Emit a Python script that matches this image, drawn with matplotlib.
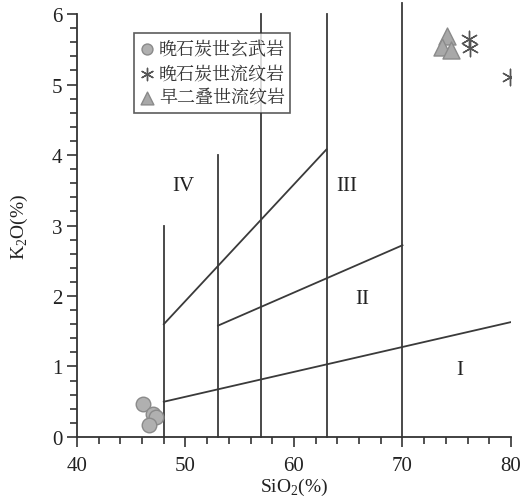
import numpy as np
import matplotlib.pyplot as plt
from matplotlib.ticker import MultipleLocator

# data
basalt_si = [46.1, 47.0, 47.25, 46.6]
basalt_k = [0.47, 0.33, 0.28, 0.17]
rhy_c_si = [76.1, 76.2, 79.9]
rhy_c_k = [5.64, 5.52, 5.10]
rhy_p_si = [74.1, 73.6, 74.5]
rhy_p_k = [5.69, 5.53, 5.49]

# field boundaries
verticals = [(48, 3.0), (53, 4.0), (57, 6.0), (63, 6.0), (70, 6.15)]
slopes = [((48, 80), (0.5, 1.63)), ((53, 70), (1.58, 2.72)), ((48, 63), (1.6, 4.08))]
field_labels = ["IV", "III", "II", "I"]
field_xy = [(49.8, 3.57), (64.9, 3.57), (66.3, 1.96), (75.3, 0.96)]
legend_names = ["晚石炭世玄武岩", "晚石炭世流纹岩", "早二叠世流纹岩"]

serif = ['Liberation Serif', 'DejaVu Serif']
cjk = ['Noto Serif CJK SC', 'Noto Sans CJK SC', 'DejaVu Sans']
plt.rcParams['font.family'] = serif
plt.rcParams['mathtext.fontset'] = 'custom'
plt.rcParams['mathtext.rm'] = 'Liberation Serif'

fig = plt.figure(figsize=(5.23, 5.02), dpi=100)
ax = fig.add_axes([0.1472, 0.1275, 0.8298, 0.8426])
lc = '#3a3a3a'

for x, top in verticals:
    ax.plot([x, x], [0, top], color=lc, lw=1.3, clip_on=False, zorder=1)
for xs, ys in slopes:
    ax.plot(xs, ys, color=lc, lw=1.3, zorder=1)
for lab, (x, y) in zip(field_labels, field_xy):
    ax.text(x, y, lab, fontsize=15, ha='center', va='center', color='#222222')

ax.scatter(basalt_si, basalt_k, s=110, marker='o', facecolor='#b0b0b0',
           edgecolor='#8a8a8a', lw=1, zorder=3, label=legend_names[0])
ax.scatter(rhy_c_si, rhy_c_k, s=140, marker=(6, 2, 0), color='#555555',
           lw=1.0, zorder=3, label=legend_names[1])
ax.scatter(rhy_p_si, rhy_p_k, s=150, marker='^', facecolor='#a8a8a8',
           edgecolor='#8a8a8a', lw=1, zorder=3, label=legend_names[2])

ax.set_xlim(40, 80)
ax.set_ylim(0, 6)
ax.xaxis.set_major_locator(MultipleLocator(10))
ax.xaxis.set_minor_locator(MultipleLocator(2))
ax.yaxis.set_major_locator(MultipleLocator(1))
ax.yaxis.set_minor_locator(MultipleLocator(0.2))
ax.tick_params(which='major', length=7, width=1.2, colors='#333333', labelsize=15, labelcolor='#222222')
ax.tick_params(which='minor', length=5, width=1.2, colors='#333333')
ax.xaxis.set_tick_params(pad=7)
for s in ['top', 'right']:
    ax.spines[s].set_visible(False)
for s in ['left', 'bottom']:
    ax.spines[s].set_color('#333333')
    ax.spines[s].set_linewidth(1.3)

ax.set_xlabel('SiO$_2$(%)', fontsize=14, labelpad=0, color='#222222')
ax.set_ylabel('K$_2$O(%)', fontsize=14, labelpad=16, color='#222222')

leg = ax.legend(loc='upper left', bbox_to_anchor=(0.11, 0.976), frameon=True,
                fancybox=False, edgecolor='#333333', handletextpad=0.2,
                borderpad=0.3, labelspacing=0.25, handlelength=0.9,
                markerscale=0.75, prop={'family': cjk, 'size': 13})
leg.get_frame().set_linewidth(1.2)
for t in leg.get_texts():
    t.set_color('#333333')

fig.savefig('out.png', dpi=100)
